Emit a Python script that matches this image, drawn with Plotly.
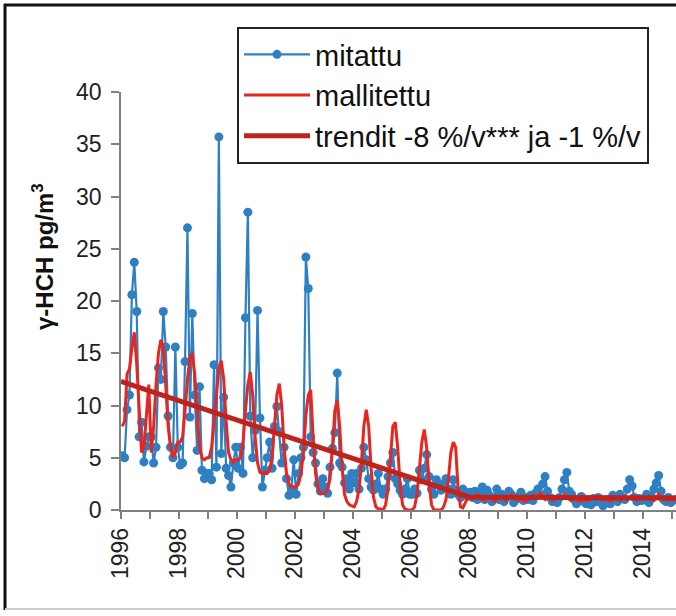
import plotly.graph_objects as go

# ---- data ----
years = list(range(1996, 2016))

measured = {
    1996: [5.2, 5.0, 9.6, 11.0, 20.6, 23.7, 19.0, 7.0, 8.4, 4.6, 6.1, 7.0],
    1997: [7.0, 4.5, 6.0, 13.6, 12.5, 19.0, 15.6, 9.0, 6.0, 5.0, 15.6, 6.0],
    1998: [4.3, 4.5, 14.2, 27.0, 8.9, 18.8, 11.0, 5.7, 11.8, 3.8, 3.0, 3.5],
    1999: [3.5, 2.9, 13.9, 4.1, 35.7, 5.4, 10.8, 4.0, 3.3, 2.2, 4.5, 6.0],
    2000: [4.0, 6.0, 3.5, 18.4, 28.5, 9.0, 5.0, 7.6, 19.1, 8.8, 2.2, 3.8],
    2001: [5.0, 6.5, 4.0, 8.0, 9.9, 7.5, 4.5, 6.0, 3.0, 1.4, 2.0, 4.8],
    2002: [1.5, 3.5, 5.0, 6.0, 24.2, 21.2, 7.0, 5.5, 4.5, 2.5, 1.8, 3.0],
    2003: [2.2, 1.6, 4.1, 5.9, 7.4, 13.1, 4.5, 4.1, 2.6, 3.0, 2.0, 3.5],
    2004: [2.6, 3.5, 2.0, 4.0, 6.0, 4.8, 3.0, 2.2, 1.9, 2.5, 3.5, 2.0],
    2005: [1.5, 2.0, 3.2, 4.5, 5.5, 3.0, 2.5, 1.9, 1.5, 2.0, 3.0, 1.5],
    2006: [1.5, 2.0, 1.6, 3.8, 2.9, 4.0, 5.3, 3.2, 2.0, 1.5, 2.9, 2.5],
    2007: [1.9, 2.5, 3.0, 2.0, 1.5, 2.9, 1.9, 1.5, 1.2, 2.0, 1.7, 1.3],
    2008: [1.7, 1.2, 1.8, 1.0, 1.5, 2.2, 1.0, 1.9, 1.4, 0.8, 1.2, 2.0],
    2009: [1.0, 1.5, 0.8, 1.2, 1.8, 1.5, 0.7, 1.0, 1.3, 1.7, 0.9, 1.2],
    2010: [1.0, 1.4, 0.9, 1.6, 2.0, 1.5, 2.5, 3.2, 1.8, 1.2, 0.8, 1.0],
    2011: [0.7, 1.2, 2.0, 2.9, 3.6, 1.8, 1.5, 1.0, 0.6, 0.9, 1.3, 0.8],
    2012: [0.6, 0.9, 0.5, 1.1, 0.8, 1.2, 0.7, 0.4, 0.9, 1.0, 0.6, 1.4],
    2013: [1.0, 0.8, 1.5, 1.2, 1.0, 2.0, 2.9, 2.3, 1.2, 0.8, 1.1, 0.9],
    2014: [1.0, 1.5, 0.7, 1.3, 2.0, 2.6, 3.3, 1.8, 1.0, 0.8, 1.2, 0.7],
    2015: [0.9, 1.0],
}

modelled = {
    1996: [8.0, 8.5, 13.0, 13.5, 15.5, 17.0, 14.0, 9.0, 5.5, 6.0, 9.0, 12.0],
    1997: [5.5, 8.0, 12.0, 15.0, 16.3, 15.5, 12.0, 8.0, 6.0, 5.0, 5.5, 6.5],
    1998: [6.5, 7.0, 9.5, 12.5, 14.5, 15.0, 13.0, 9.0, 6.0, 5.0, 4.8, 5.0],
    1999: [5.0, 6.0, 8.5, 11.5, 13.5, 14.3, 12.5, 8.5, 5.5, 4.8, 4.6, 4.8],
    2000: [4.8, 5.0, 6.5, 9.5, 12.0, 13.2, 11.0, 7.0, 4.5, 3.6, 3.5, 3.6],
    2001: [3.5, 3.8, 5.0, 8.0, 11.0, 12.1, 10.0, 6.0, 3.5, 2.5, 2.2, 2.2],
    2002: [2.2, 2.5, 3.5, 5.5, 9.0, 11.0, 11.5, 7.0, 3.5, 2.0, 1.6, 1.6],
    2003: [1.6, 2.0, 3.0, 6.0, 9.5, 10.5, 8.0, 4.0, 1.5, 0.8, 0.5, 0.4],
    2004: [0.3, 0.8, 2.0, 4.5, 8.0, 9.6, 8.0, 4.0, 1.2, 0.3, 0.1, 0.1],
    2005: [0.0, 0.5, 2.0, 5.0, 8.0, 8.4, 6.0, 2.5, 0.5, 0.1, 0.0, 0.0],
    2006: [0.0, 0.3, 1.5, 4.0, 6.5, 7.7, 6.0, 2.5, 0.5, 0.0, 0.0, 0.0],
    2007: [0.0, 0.3, 1.0, 3.0, 5.5, 6.5, 6.0, 2.0, 0.3, 0.2, 0.8, 1.2],
    2008: [1.2, 1.0, 1.3, 1.5, 1.2, 1.0, 0.9, 1.1, 1.3, 1.0, 0.8, 1.0],
    2009: [1.1, 1.3, 1.0, 0.9, 1.2, 1.5, 1.3, 1.0, 0.9, 1.1, 1.0, 0.8],
    2010: [1.0, 1.2, 1.4, 1.1, 1.3, 1.6, 1.2, 1.0, 1.4, 1.2, 0.9, 1.0],
    2011: [1.1, 1.3, 1.2, 1.5, 1.3, 1.0, 0.9, 1.1, 1.0, 0.8, 1.0, 0.9],
    2012: [1.0, 0.9, 1.1, 1.2, 1.0, 1.3, 1.0, 0.9, 1.1, 1.0, 0.8, 1.0],
    2013: [1.2, 1.0, 0.9, 1.1, 1.3, 1.0, 1.2, 1.4, 1.1, 0.9, 1.0, 1.2],
    2014: [1.0, 1.1, 1.3, 1.0, 0.9, 1.2, 1.5, 1.2, 1.0, 1.1, 0.9, 1.0],
    2015: [1.0, 0.9],
}

trend_x = [1996.0, 2008.0, 2015.2]
trend_y = [12.3, 1.25, 1.15]

tick_years = [1996, 1998, 2000, 2002, 2004, 2006, 2008, 2010, 2012, 2014]
y_ticks = [0, 5, 10, 15, 20, 25, 30, 35, 40]

name_meas = "mitattu"
name_model = "mallitettu"
name_trend = "trendit -8 %/v*** ja -1 %/v"
y_title = "γ-HCH pg/m<sup>3</sup>"


def flatten(d):
    xs, ys = [], []
    for y in years:
        for m, v in enumerate(d.get(y, [])):
            xs.append(y + (m + 0.5) / 12.0)
            ys.append(v)
    return xs, ys


mx, my = flatten(measured)
rx, ry = flatten(modelled)

BLUE = "#2f80c3"
RED = "#e8251f"
DARKRED = "#c0231c"
FONT = "Liberation Sans"

fig = go.Figure()
fig.add_trace(go.Scatter(x=mx, y=my, mode="lines+markers", name=name_meas,
                         line=dict(color=BLUE, width=2.2),
                         marker=dict(color=BLUE, size=9)))
fig.add_trace(go.Scatter(x=rx, y=ry, mode="lines", name=name_model,
                         line=dict(color=RED, width=3)))
fig.add_trace(go.Scatter(x=trend_x, y=trend_y, mode="lines", name=name_trend,
                         line=dict(color=DARKRED, width=5)))

L, R, T, B = 121, 0, 92, 106
W, H = 676, 616
pw, ph = W - L - R, H - T - B


def px_x(p):
    return (p - L) / pw


def px_y(p):
    return (H - B - p) / ph


fig.update_layout(
    width=W, height=H,
    margin=dict(l=L, r=R, t=T, b=B, pad=0),
    paper_bgcolor="white", plot_bgcolor="white",
    font=dict(family=FONT, size=22, color="#222222"),
    showlegend=True,
    legend=dict(x=px_x(237), y=px_y(27), xanchor="left", yanchor="top",
                bgcolor="white", bordercolor="#222222", borderwidth=2,
                font=dict(family=FONT, size=29, color="#111111"),
                itemwidth=66, tracegroupgap=0),
    xaxis=dict(range=[1996, 2015.14], tickmode="array", tickvals=tick_years,
               ticktext=[str(t) for t in tick_years], tickangle=-90,
               ticks="outside", ticklen=7, tickcolor="#808080", tickwidth=1.5,
               minor=dict(dtick=1, tick0=1996, ticks="outside", ticklen=7,
                          tickcolor="#808080", tickwidth=1.5),
               showline=True, linecolor="#808080", linewidth=1.5,
               showgrid=False, zeroline=False,
               tickfont=dict(family=FONT, size=23, color="#222222")),
    yaxis=dict(range=[0, 40], tickmode="array", tickvals=y_ticks,
               ticks="outside", ticklen=8, tickcolor="#808080", tickwidth=1.5,
               ticklabelstandoff=5,
               showline=True, linecolor="#808080", linewidth=1.5,
               showgrid=False, zeroline=False,
               tickfont=dict(family=FONT, size=23, color="#222222")),
    annotations=[dict(text=y_title, xref="paper", yref="paper",
                      x=px_x(43), y=px_y(257), xanchor="center", yanchor="middle",
                      textangle=-90, showarrow=False,
                      font=dict(family=FONT, size=24, color="#111111", weight="bold"))],
    shapes=[
        dict(type="line", xref="paper", yref="paper",
             x0=px_x(5), x1=px_x(5), y0=px_y(610), y1=px_y(4),
             line=dict(color="#111111", width=3), layer="below"),
        dict(type="line", xref="paper", yref="paper",
             x0=px_x(4), x1=px_x(700), y0=px_y(5), y1=px_y(5),
             line=dict(color="#111111", width=3), layer="below"),
        dict(type="line", xref="paper", yref="paper",
             x0=px_x(5), x1=px_x(700), y0=px_y(609), y1=px_y(609),
             line=dict(color="#c8ccd4", width=2), layer="below"),
    ],
)

fig.write_html("out.html",
               config={"displayModeBar": False},
               post_script="document.body.style.margin='0';"
                           "document.body.style.overflow='hidden';")
